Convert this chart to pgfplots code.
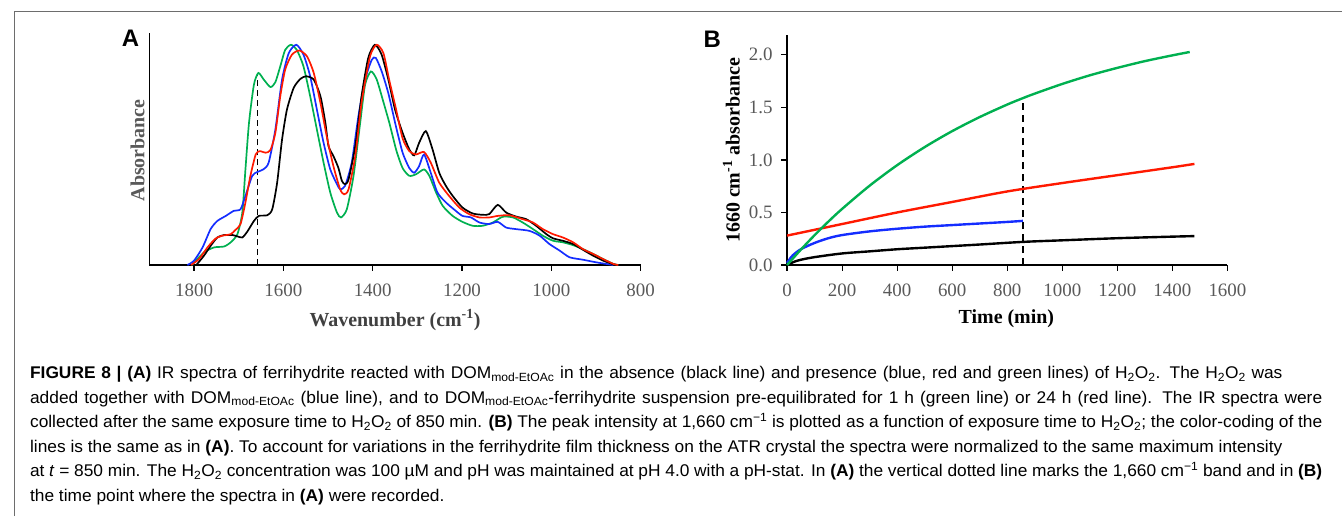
\documentclass[border=0pt]{standalone}
\usepackage{pgfplots}
\pgfplotsset{compat=1.18}
\usepackage{graphicx}
\usepackage{fontspec}
\setmainfont{Liberation Serif}
\newfontfamily\capfont{Liberation Sans}
\definecolor{tickgray}{HTML}{595959}
\definecolor{cgreen}{RGB}{0,176,80}
\definecolor{cred}{RGB}{255,25,0}
\definecolor{cblue}{RGB}{20,45,255}
\definecolor{framegray}{HTML}{6D6D6D}
\newcommand\hho{H\textsubscript{2}O\textsubscript{2}}
\newcommand\dom{DOM\textsubscript{mod-EtOAc}}
\newcommand\capsize{\capfont\fontsize{17}{17}\selectfont}
\newcommand\capline[3]{%
  \pgfmathsetlengthmacro\capw{#2/\capscale}%
  \node[anchor=base west, inner sep=0pt] at (25pt,-#1pt) {\scalebox{\capscale}[1]{\hbox to \capw{\capsize #3}}};}
\pgfplotsset{
  panel/.style={
    scale only axis,
    axis x line=bottom, axis y line=left,
    axis line style={line width=1.6pt,-},
    tick style={line width=1.2pt, black},
    major tick length=6pt,
    tick align=outside,
    /pgf/number format/assume math mode=true,
    /pgf/number format/1000 sep={},
    ticklabel style={font=\fontsize{19}{19}\selectfont, text=tickgray},
    xticklabel style={yshift=-9pt},
    yticklabel style={xshift=-5pt},
    label style={font=\fontsize{20}{20}\selectfont\bfseries},
    clip=false,
  }
}
\newlength\lfour
\begin{document}
\settowidth\lfour{\capsize lines is the same as in \textbf{(A)}. To account for variations in the ferrihydrite film thickness on the ATR crystal the spectra were normalized to the same maximum intensity}
\pgfmathsetmacro\capscale{1257/\lfour}
\begin{tikzpicture}
\path[use as bounding box] (0pt,0pt) rectangle (1342pt,-518pt);
\draw[framegray, line width=0.9pt] (9.5pt,-518pt) -- (9.5pt,-11pt) -- (1342pt,-11pt);
% ---------- Panel A ----------
\begin{axis}[panel,
  at={(145pt,-266pt)}, anchor=south west,
  width=493pt, height=233pt,
  x dir=reverse, xmin=800, xmax=1900, ymin=0, ymax=1.054,
  xtick={800,1000,...,1800}, ytick=\empty,
  xlabel={Wavenumber (cm\textsuperscript{-1})},
  xlabel style={at={(axis description cs:0.5,-0.236)}, anchor=center, text=black!75},
  ylabel={Absorbance},
  ylabel style={at={(axis description cs:-0.0243,0.494)}, anchor=center, text=tickgray},
]
\addplot[black, line width=2pt, dash pattern=on 6pt off 4pt] coordinates {(1658,0) (1658,0.872)};
\addplot[cgreen, line width=1.7pt, smooth, tension=0.4] coordinates {
(1805,0) (1778,.057) (1755,.080) (1733,.084) (1718,.103) (1703,.140) (1692,.238) (1685,.434) (1677,.646) (1666,.819) (1656,.872) (1644,.842) (1629,.808) (1618,.830) (1607,.902) (1596,.977) (1583,1.0) (1570,.977) (1555,.902) (1540,.766) (1525,.615) (1510,.465) (1495,.329) (1480,.238) (1471,.216) (1458,.253) (1443,.404) (1428,.646) (1417,.819) (1404,.879) (1391,.842) (1376,.74) (1362,.64) (1347,.52) (1333,.44) (1318,.405) (1303,.412) (1285,.434) (1273,.404) (1258,.329) (1243,.268) (1221,.223) (1199,.196) (1176,.178) (1154,.178) (1131,.193) (1109,.219) (1086,.216) (1064,.193) (1041,.163) (1019,.133) (996,.110) (974,.103) (951,.090) (929,.072) (906,.050) (884,.027) (861,.005) (850,0)};
\addplot[cblue, line width=1.7pt, smooth, tension=0.4] coordinates {
(1815,0) (1800,.020) (1781,.080) (1763,.163) (1748,.200) (1729,.223) (1711,.246) (1696,.253) (1685,.314) (1670,.404) (1659,.422) (1645,.434) (1633,.465) (1618,.615) (1603,.842) (1588,.962) (1571,1.0) (1555,.955) (1540,.857) (1525,.706) (1510,.555) (1495,.434) (1480,.367) (1473,.344) (1462,.359) (1447,.465) (1432,.676) (1417,.842) (1402,.932) (1393,.940) (1380,.88) (1365,.78) (1348,.63) (1333,.51) (1318,.440) (1307,.419) (1296,.449) (1285,.502) (1270,.419) (1255,.329) (1236,.284) (1214,.246) (1199,.223) (1180,.216) (1161,.193) (1139,.186) (1120,.196) (1101,.170) (1079,.163) (1049,.155) (1026,.133) (1004,.095) (981,.065) (959,.035) (929,.024) (899,.012) (861,0)};
\addplot[black, line width=1.7pt, smooth, tension=0.4] coordinates {
(1795,0) (1778,.042) (1763,.087) (1748,.125) (1733,.136) (1714,.136) (1703,.130) (1692,.125) (1681,.151) (1666,.200) (1655,.223) (1636,.226) (1625,.253) (1614,.374) (1603,.570) (1592,.706) (1577,.804) (1562,.845) (1549,.857) (1532,.842) (1517,.766) (1506,.646) (1499,.540) (1488,.495) (1477,.442) (1469,.382) (1462,.367) (1454,.389) (1439,.540) (1425,.766) (1410,.940) (1395,1.0) (1380,.955) (1365,.842) (1350,.706) (1333,.600) (1318,.525) (1307,.498) (1296,.555) (1281,.608) (1266,.525) (1251,.419) (1236,.359) (1221,.314) (1199,.261) (1176,.234) (1154,.228) (1139,.231) (1120,.273) (1101,.238) (1079,.220) (1056,.208) (1034,.178) (1011,.140) (996,.121) (974,.110) (951,.095) (929,.069) (906,.042) (884,.020) (861,.003) (850,0)};
\addplot[cred, line width=1.7pt, smooth, tension=0.4] coordinates {
(1807,0) (1789,.027) (1770,.080) (1752,.120) (1737,.133) (1718,.140) (1707,.160) (1696,.186) (1685,.284) (1674,.404) (1662,.502) (1653,.517) (1640,.510) (1629,.522) (1618,.600) (1607,.766) (1596,.887) (1581,.955) (1564,.974) (1547,.947) (1532,.872) (1517,.736) (1503,.585) (1488,.449) (1473,.344) (1464,.321) (1454,.344) (1439,.495) (1425,.736) (1406,.947) (1391,1.0) (1376,.962) (1363,.84) (1348,.71) (1333,.575) (1318,.517) (1303,.502) (1285,.513) (1270,.465) (1251,.374) (1229,.314) (1206,.261) (1184,.231) (1161,.216) (1139,.216) (1120,.223) (1094,.226) (1064,.208) (1041,.193) (1019,.163) (996,.140) (974,.125) (951,.103) (929,.072) (906,.050) (884,.027) (861,.005) (850,0)};
\end{axis}
\node[font=\capfont\bfseries\fontsize{24}{24}\selectfont, inner sep=0pt] at (126pt,-38pt) {A};
% ---------- Panel B ----------
\begin{axis}[panel,
  at={(785pt,-266pt)}, anchor=south west,
  width=442pt, height=231pt,
  xmin=0, xmax=1600, ymin=0, ymax=2.19,
  xtick={0,200,...,1600}, ytick={0,0.5,1,1.5,2},
  yticklabel style={/pgf/number format/fixed, /pgf/number format/fixed zerofill, /pgf/number format/precision=1},
  xlabel={Time (min)},
  xlabel style={at={(axis description cs:0.498,-0.234)}, anchor=center},
  ylabel={1660 cm\textsuperscript{-1} absorbance},
  ylabel style={at={(axis description cs:-0.1267,0.498)}, anchor=center},
]
\addplot[black, line width=1.6pt, dash pattern=on 7pt off 5pt] coordinates {(857,0) (857,1.55)};
\addplot[black, line width=2.4pt, smooth] coordinates {
(0,0) (25,0.03) (50,0.05) (100,0.075) (200,0.11) (300,0.13) (400,0.15) (500,0.165) (600,0.18) (700,0.195) (857,0.22) (1000,0.235) (1200,0.255) (1400,0.27) (1480,0.275)};
\addplot[cred, line width=2.4pt, smooth] coordinates {
(0,0.28) (200,0.39) (400,0.50) (600,0.60) (800,0.70) (1000,0.78) (1200,0.855) (1400,0.93) (1480,0.962)};
\addplot[cblue, line width=2.4pt, smooth] coordinates {
(0,0.02) (20,0.09) (50,0.15) (100,0.21) (150,0.255) (200,0.285) (300,0.32) (400,0.345) (500,0.365) (600,0.38) (700,0.395) (800,0.41) (857,0.42)};
\addplot[cgreen, line width=2.4pt, smooth] coordinates {
(0,0) (50,0.146) (100,0.284) (150,0.413) (200,0.534) (300,0.755) (400,0.950) (500,1.122) (600,1.274) (700,1.408) (800,1.527) (857,1.588) (900,1.631) (1000,1.723) (1100,1.805) (1200,1.876) (1300,1.940) (1400,1.995) (1463,2.027)};
\end{axis}
\node[font=\capfont\bfseries\fontsize{24}{24}\selectfont, inner sep=0pt] at (710pt,-39pt) {B};
% ---------- Caption ----------
\capline{380}{1257}{\textbf{FIGURE 8 | (A)} IR spectra of ferrihydrite reacted with \dom\ in the absence (black line) and presence (blue, red and green lines) of \hho. The \hho\ was}
\capline{404.6}{1297}{added together with \dom\ (blue line), and to \dom-ferrihydrite suspension pre-equilibrated for 1 h (green line) or 24 h (red line). The IR spectra were}
\capline{429.2}{1297}{collected after the same exposure time to \hho\ of 850 min. \textbf{(B)} The peak intensity at 1,660 cm\textsuperscript{−1} is plotted as a function of exposure time to \hho; the color-coding of the}
\capline{453.8}{1257}{lines is the same as in \textbf{(A)}. To account for variations in the ferrihydrite film thickness on the ATR crystal the spectra were normalized to the same maximum intensity}
\capline{478.4}{1297}{at \textit{t} = 850 min. The \hho\ concentration was 100 µM and pH was maintained at pH 4.0 with a pH-stat. In \textbf{(A)} the vertical dotted line marks the 1,660 cm\textsuperscript{−1} band and in \textbf{(B)}}
\node[anchor=base west, inner sep=0pt] at (25pt,-503pt) {\scalebox{\capscale}[1]{\capsize the time point where the spectra in \textbf{(A)} were recorded.}};
\end{tikzpicture}
\end{document}
